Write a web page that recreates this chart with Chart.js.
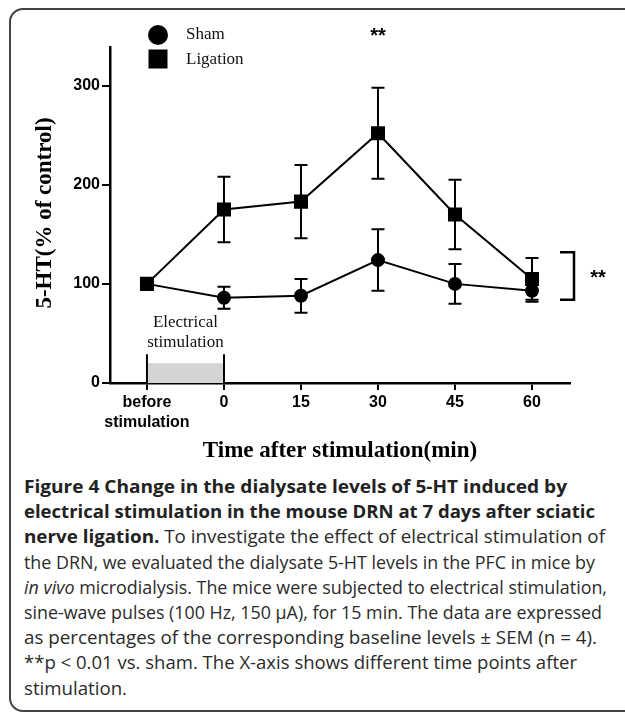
<!DOCTYPE html>
<html>
<head>
<meta charset="utf-8">
<script src="https://cdn.jsdelivr.net/npm/chart.js@4/dist/chart.umd.min.js"></script>
<style>
  html, body { margin: 0; padding: 0; background: #fff; }
  body { width: 625px; height: 717px; position: relative; overflow: hidden; }
  #frame {
    position: absolute; left: 9px; top: 8px; width: 640px; height: 704px;
    border: 2px solid #444; border-radius: 14px; box-sizing: border-box;
  }
  #wrap { position: absolute; left: 0; top: 0; width: 625px; height: 470px; }
  #caption {
    position: absolute; left: 24px; top: 474px; width: 700px;
    font-family: "Open Sans", sans-serif; font-size: 18px; line-height: 25.2px;
    color: #2b2b2b; white-space: nowrap;
  }
  #caption b { font-weight: 700; color: #222; }
  #caption span { display: inline-block; transform-origin: 0 50%; }
</style>
</head>
<body>
<div id="frame"></div>
<div id="wrap"><canvas id="chart" width="625" height="470"></canvas></div>
<div id="caption">
  <div><span data-w="543"><b>Figure 4 Change in the dialysate levels of 5-HT induced by</b></span></div>
  <div><span data-w="571"><b>electrical stimulation in the mouse DRN at 7 days after sciatic</b></span></div>
  <div><span data-w="581"><b>nerve ligation.</b> To investigate the effect of electrical stimulation of</span></div>
  <div><span data-w="571">the DRN, we evaluated the dialysate 5-HT levels in the PFC in mice by</span></div>
  <div><span data-w="583"><i>in vivo</i> microdialysis. The mice were subjected to electrical stimulation,</span></div>
  <div><span data-w="578">sine-wave pulses (100 Hz, 150 μA), for 15 min. The data are expressed</span></div>
  <div><span data-w="573">as percentages of the corresponding baseline levels ± SEM (n = 4).</span></div>
  <div><span data-w="553">**p &lt; 0.01 vs. sham. The X-axis shows different time points after</span></div>
  <div><span data-w="103">stimulation.</span></div>
</div>
<script>
// time points (min); "before stimulation" sits one step before 0
const timePoints = [-15, 0, 15, 30, 45, 60];
const timeLabels = [['before', 'stimulation'], '0', '15', '30', '45', '60'];
const shamMean = [100, 86, 88, 124, 100, 93];
const shamSem = [0, 11, 17, 31, 20, 11];
const ligationMean = [100, 175, 183, 252, 170, 105];
const ligationSem = [0, 33, 37, 46, 35, 21];
const yTicks = [0, 100, 200, 300];
const stimWindow = [-15, 0];   // electrical stimulation period
const sigBracket = [132, 84];  // right-hand bracket span

document.addEventListener('DOMContentLoaded', function() {
    // squeeze each caption line to the width it has in the figure
    document.querySelectorAll('#caption span[data-w]').forEach(sp => {
        const k = Number(sp.dataset.w) / sp.getBoundingClientRect().width;
        sp.style.transform = 'scaleX(' + k + ')';
    });

    const serif = '"Liberation Serif", "Times New Roman", serif';
    const sans = '"Liberation Sans", Arial, sans-serif';

    function toPoints(means) {
        return timePoints.map((t, i) => ({ x: t, y: means[i] }));
    }

    // error bars, stimulation box, legend and labels
    const extras = {
        id: 'extras',
        beforeDatasetsDraw(chart) {
            const ctx = chart.ctx;
            const xs = chart.scales.x, ys = chart.scales.y;
            ctx.save();
            // shaded stimulation period
            const x0 = xs.getPixelForValue(stimWindow[0]);
            const x1 = xs.getPixelForValue(stimWindow[1]);
            ctx.fillStyle = '#d4d4d4';
            ctx.fillRect(x0, ys.getPixelForValue(20), x1 - x0, ys.getPixelForValue(0) - ys.getPixelForValue(20));
            ctx.strokeStyle = '#000';
            ctx.lineWidth = 2;
            [x0, x1].forEach(x => {
                ctx.beginPath();
                ctx.moveTo(x, ys.getPixelForValue(0));
                ctx.lineTo(x, ys.getPixelForValue(29));
                ctx.stroke();
            });
            ctx.fillStyle = '#111';
            ctx.font = '17px ' + serif;
            ctx.textAlign = 'center';
            ctx.textBaseline = 'middle';
            ctx.fillText('Electrical', (x0 + x1) / 2, 323);
            ctx.fillText('stimulation', (x0 + x1) / 2, 343);

            // error bars
            ctx.lineWidth = 2;
            ctx.strokeStyle = '#000';
            [[shamMean, shamSem], [ligationMean, ligationSem]].forEach(([m, s]) => {
                timePoints.forEach((t, i) => {
                    if (!s[i]) return;
                    const x = xs.getPixelForValue(t);
                    const top = ys.getPixelForValue(m[i] + s[i]);
                    const bot = ys.getPixelForValue(m[i] - s[i]);
                    ctx.beginPath();
                    ctx.moveTo(x, top); ctx.lineTo(x, bot);
                    ctx.moveTo(x - 6.5, top); ctx.lineTo(x + 6.5, top);
                    ctx.moveTo(x - 6.5, bot); ctx.lineTo(x + 6.5, bot);
                    ctx.stroke();
                });
            });
            ctx.restore();
        },
        afterDraw(chart) {
            const ctx = chart.ctx;
            const xs = chart.scales.x, ys = chart.scales.y;
            ctx.save();
            ctx.fillStyle = '#000';

            // legend
            ctx.beginPath();
            ctx.arc(158, 35, 10, 0, Math.PI * 2);
            ctx.fill();
            ctx.fillRect(148.5, 49.5, 19, 19);
            ctx.fillStyle = '#111';
            ctx.font = '17px ' + serif;
            ctx.textAlign = 'left';
            ctx.textBaseline = 'middle';
            ctx.fillText('Sham', 186, 35);
            ctx.fillText('Ligation', 186, 60);

            // significance marks
            ctx.fillStyle = '#000';
            ctx.font = 'bold 20px ' + sans;
            ctx.textAlign = 'center';
            ctx.fillText('**', xs.getPixelForValue(30), 36);
            const bTop = ys.getPixelForValue(sigBracket[0]);
            const bBot = ys.getPixelForValue(sigBracket[1]);
            ctx.lineWidth = 2.5;
            ctx.strokeStyle = '#000';
            ctx.beginPath();
            ctx.moveTo(560, bTop); ctx.lineTo(574, bTop);
            ctx.lineTo(574, bBot); ctx.lineTo(560, bBot);
            ctx.stroke();
            ctx.fillText('**', 598, (bTop + bBot) / 2 + 3);

            // axis titles
            ctx.fillStyle = '#000';
            ctx.font = 'bold 23px ' + serif;
            ctx.textAlign = 'center';
            ctx.fillText('Time after stimulation(min)', 340, 451);
            ctx.translate(45, 213);
            ctx.rotate(-Math.PI / 2);
            ctx.fillText('5-HT(% of control)', 0, 0);
            ctx.restore();
        }
    };

    new Chart(document.getElementById('chart'), {
        type: 'line',
        data: {
            datasets: [{
                label: 'Sham',
                data: toPoints(shamMean),
                borderColor: '#000',
                backgroundColor: '#000',
                borderWidth: 2,
                pointStyle: 'circle',
                pointRadius: 6,
                pointHoverRadius: 6
            }, {
                label: 'Ligation',
                data: toPoints(ligationMean),
                borderColor: '#000',
                backgroundColor: '#000',
                borderWidth: 2,
                pointStyle: 'rect',
                pointRadius: 8.5,
                pointHoverRadius: 8.5
            }]
        },
        options: {
            responsive: false,
            animation: false,
            events: [],
            layout: { padding: { top: 47, right: 55, left: 0, bottom: 0 } },
            plugins: {
                legend: { display: false },
                tooltip: { enabled: false }
            },
            scales: {
                x: {
                    type: 'linear',
                    min: -22.2,
                    max: 67.4,
                    afterFit: s => { s.height = 87; },
                    afterBuildTicks: s => { s.ticks = timePoints.map(v => ({ value: v })); },
                    ticks: {
                        color: '#000',
                        font: { family: sans, size: 16, weight: 'bold', lineHeight: 1.25 },
                        padding: 3,
                        maxRotation: 0,
                        autoSkip: false,
                        callback: v => timeLabels[timePoints.indexOf(v)]
                    },
                    grid: { drawOnChartArea: false, drawTicks: true, tickLength: 7, color: '#000', lineWidth: 2 },
                    border: { display: true, color: '#000', width: 2.5 }
                },
                y: {
                    min: 0,
                    max: 339,
                    afterFit: s => { s.width = 110; },
                    afterBuildTicks: s => { s.ticks = yTicks.map(v => ({ value: v })); },
                    ticks: {
                        color: '#000',
                        font: { family: sans, size: 16, weight: 'bold' },
                        padding: 2
                    },
                    grid: { drawOnChartArea: false, drawTicks: true, tickLength: 8, color: '#000', lineWidth: 2 },
                    border: { display: true, color: '#000', width: 2.5 }
                }
            }
        },
        plugins: [extras]
    });
});
</script>
</body>
</html>
